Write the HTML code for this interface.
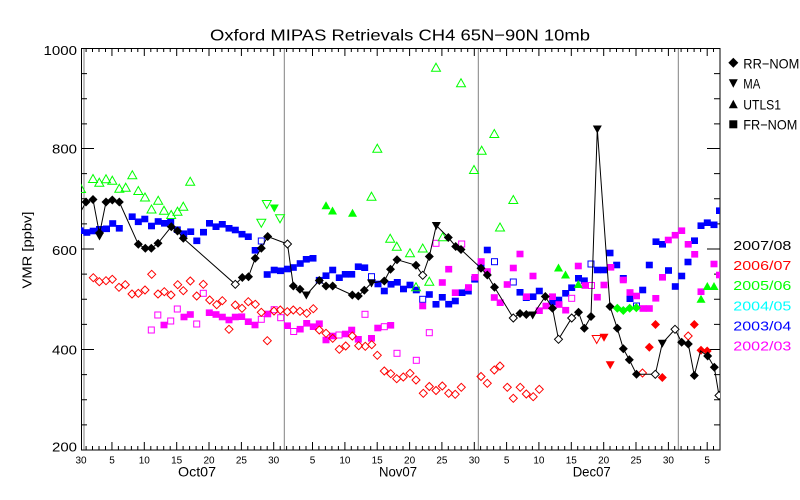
<!DOCTYPE html>
<html><head><meta charset="utf-8"><style>
html,body{margin:0;padding:0;background:#fff;}
svg{display:block;}
text{font-family:"Liberation Sans",sans-serif;}
</style></head><body>
<svg width="800" height="500" viewBox="0 0 800 500" xmlns="http://www.w3.org/2000/svg">
<defs>
<clipPath id="pc"><rect x="81" y="48" width="639" height="402"/></clipPath>
<path id="D" d="M0-4.5 4.5 0 0 4.5-4.5 0z"/>
<path id="d" d="M0-4 4 0 0 4-4 0z"/>
<rect id="S" x="-3.5" y="-3.3" width="7" height="6.6"/>
<rect id="s" x="-3" y="-3" width="6" height="6"/>
<path id="U" d="M0-4.5 4.5 3.5-4.5 3.5z"/>
<path id="V" d="M-4.5-3.5 4.5-3.5 0 4.5z"/>
</defs>
<rect width="800" height="500" fill="#fff"/>

<text x="400" y="40.7" font-size="16" text-anchor="middle" textLength="380" lengthAdjust="spacingAndGlyphs">Oxford MIPAS Retrievals CH4 65N−90N 10mb</text>

<!-- month lines -->
<g stroke="#808080" stroke-width="1">
<line x1="84" y1="48" x2="84" y2="450"/>
<line x1="284.3" y1="48" x2="284.3" y2="450"/>
<line x1="478.3" y1="48" x2="478.3" y2="450"/>
<line x1="678.3" y1="48" x2="678.3" y2="450"/>
</g>

<!-- axes box -->
<rect x="81.5" y="48.5" width="638.5" height="401.5" fill="none" stroke="#000" stroke-width="1"/>

<!-- y ticks -->
<g stroke="#000" stroke-width="1">
<path d="M81 48.5h13M81 148.5h13M81 249h13M81 349.5h13M81 450h13"/>
<path d="M81 73.6h6M81 98.8h6M81 123.9h6M81 173.6h6M81 198.8h6M81 223.9h6M81 274.1h6M81 299.3h6M81 324.4h6M81 374.6h6M81 399.8h6M81 424.9h6"/>
<path d="M720 48.5h-13M720 148.5h-13M720 249h-13M720 349.5h-13M720 450h-13"/>
<path d="M720 73.6h-6M720 98.8h-6M720 123.9h-6M720 173.6h-6M720 198.8h-6M720 223.9h-6M720 274.1h-6M720 299.3h-6M720 324.4h-6M720 374.6h-6M720 399.8h-6M720 424.9h-6"/>
</g>
<g font-size="12.5" text-anchor="end">
<text x="77" y="55" textLength="33.5" lengthAdjust="spacingAndGlyphs">1000</text>
<text x="77" y="153.3" textLength="25" lengthAdjust="spacingAndGlyphs">800</text>
<text x="77" y="255" textLength="25" lengthAdjust="spacingAndGlyphs">600</text>
<text x="77" y="354.3" textLength="25" lengthAdjust="spacingAndGlyphs">400</text>
<text x="77" y="451.7" textLength="25" lengthAdjust="spacingAndGlyphs">200</text>
</g>
<text transform="translate(31.5,250) rotate(-90)" font-size="13" text-anchor="middle" textLength="77" lengthAdjust="spacingAndGlyphs">VMR [ppbv]</text>

<!-- x ticks -->
<g stroke="#000" stroke-width="1" id="xt">
<path d="M86.1 450v-4M92.5 450v-4M99 450v-4M105.5 450v-4M118.4 450v-4M124.9 450v-4M131.4 450v-4M137.8 450v-4M150.8 450v-4M157.2 450v-4M163.7 450v-4M170.2 450v-4M183.1 450v-4M189.6 450v-4M196.1 450v-4M202.5 450v-4M215.5 450v-4M221.9 450v-4M228.4 450v-4M234.9 450v-4M247.8 450v-4M254.3 450v-4M260.8 450v-4M267.2 450v-4M280.2 450v-4M286.6 450v-4M293.1 450v-4M299.6 450v-4M306 450v-4M318.9 450v-4M325.4 450v-4M331.9 450v-4M338.4 450v-4M351.3 450v-4M357.8 450v-4M364.2 450v-4M370.7 450v-4M383.6 450v-4M390.1 450v-4M396.6 450v-4M403 450v-4M416 450v-4M422.4 450v-4M428.9 450v-4M435.4 450v-4M448.3 450v-4M454.8 450v-4M461.2 450v-4M467.7 450v-4M480.6 450v-4M487.1 450v-4M493.6 450v-4M500.1 450v-4M513 450v-4M519.5 450v-4M525.9 450v-4M532.4 450v-4M545.3 450v-4M551.8 450v-4M558.3 450v-4M564.7 450v-4M577.7 450v-4M584.1 450v-4M590.6 450v-4M597.1 450v-4M610 450v-4M616.5 450v-4M622.9 450v-4M629.4 450v-4M642.3 450v-4M648.8 450v-4M655.3 450v-4M661.8 450v-4M674.7 450v-4M681.1 450v-4M687.6 450v-4M694.1 450v-4M700.6 450v-4M713.5 450v-4"/>
<path d="M111.95 450v-8M144.3 450v-8M176.7 450v-8M209 450v-8M241.4 450v-8M273.7 450v-8M312.5 450v-8M344.9 450v-8M377.2 450v-8M409.6 450v-8M441.9 450v-8M474.3 450v-8M506.6 450v-8M538.9 450v-8M571.3 450v-8M603.7 450v-8M636 450v-8M668.4 450v-8M707.2 450v-8"/>
</g>
<use href="#xt" transform="translate(0,498) scale(1,-1)"/>
<g font-size="10" text-anchor="middle">
<text x="81" y="463.3">30</text><text x="112" y="463.3">5</text><text x="144.3" y="463.3">10</text><text x="176.7" y="463.3">15</text><text x="209" y="463.3">20</text><text x="241.4" y="463.3">25</text><text x="273.7" y="463.3">30</text>
<text x="312.5" y="463.3">5</text><text x="344.9" y="463.3">10</text><text x="377.2" y="463.3">15</text><text x="409.6" y="463.3">20</text><text x="441.9" y="463.3">25</text><text x="474.3" y="463.3">30</text>
<text x="506.6" y="463.3">5</text><text x="538.9" y="463.3">10</text><text x="571.3" y="463.3">15</text><text x="603.7" y="463.3">20</text><text x="636" y="463.3">25</text><text x="668.4" y="463.3">30</text>
<text x="707.2" y="463.3">5</text>
</g>
<g font-size="14" text-anchor="middle">
<text x="197" y="476.7" textLength="38" lengthAdjust="spacingAndGlyphs">Oct07</text>
<text x="398" y="476.7" textLength="38" lengthAdjust="spacingAndGlyphs">Nov07</text>
<text x="591.7" y="476.7" textLength="38" lengthAdjust="spacingAndGlyphs">Dec07</text>
</g>

<g clip-path="url(#pc)">
<!-- 2003/04 blue -->
<g fill="#0000ff">
<use href="#S" x="80.2" y="230.7"/><use href="#S" x="86.8" y="232.5"/><use href="#S" x="93.2" y="231"/><use href="#S" x="99.5" y="229.3"/><use href="#S" x="106.5" y="228.8"/><use href="#S" x="112.7" y="223.5"/><use href="#S" x="119.3" y="228.3"/><use href="#S" x="132.2" y="216.7"/><use href="#S" x="138.3" y="221.8"/><use href="#S" x="144.8" y="219"/><use href="#S" x="151.5" y="226"/><use href="#S" x="158.2" y="221.5"/><use href="#S" x="164.5" y="223.3"/><use href="#S" x="170.7" y="221.7"/><use href="#S" x="177.3" y="229.7"/><use href="#S" x="183.7" y="233.7"/><use href="#S" x="190.7" y="231.7"/><use href="#S" x="196.8" y="240.8"/><use href="#S" x="203.5" y="232.2"/><use href="#S" x="209.5" y="223.3"/><use href="#S" x="216" y="226.7"/><use href="#S" x="222.3" y="224.3"/><use href="#S" x="229" y="228.3"/><use href="#S" x="235.3" y="230"/><use href="#S" x="242" y="234.2"/><use href="#S" x="248.3" y="236.7"/><use href="#S" x="255.2" y="250.3"/><use href="#S" x="267.2" y="274.5"/><use href="#S" x="274.2" y="270"/><use href="#S" x="280.5" y="270.8"/><use href="#S" x="287.5" y="269"/><use href="#S" x="293.3" y="267.5"/><use href="#S" x="300.2" y="263.5"/><use href="#S" x="306.3" y="259.3"/><use href="#S" x="313" y="258.3"/><use href="#S" x="319.3" y="280.2"/><use href="#S" x="326" y="275.7"/><use href="#S" x="332.7" y="270"/><use href="#S" x="339.3" y="277.7"/><use href="#S" x="345.3" y="274.3"/><use href="#S" x="351.7" y="274.3"/><use href="#S" x="358.3" y="266.7"/><use href="#S" x="364.7" y="267.7"/><use href="#S" x="378" y="284"/><use href="#S" x="384.3" y="291"/><use href="#S" x="391" y="284.3"/><use href="#S" x="397.3" y="282.3"/><use href="#S" x="403.5" y="289"/><use href="#S" x="410" y="285"/><use href="#S" x="416.3" y="290"/><use href="#S" x="429.3" y="294.5"/><use href="#S" x="436" y="304.3"/><use href="#S" x="442.3" y="297.3"/><use href="#S" x="448.7" y="304.2"/><use href="#S" x="455.3" y="301"/><use href="#S" x="462" y="292.7"/><use href="#S" x="468.3" y="291.2"/><use href="#S" x="474.7" y="279.3"/><use href="#S" x="481" y="266"/><use href="#S" x="487.3" y="250"/><use href="#S" x="520" y="292.3"/><use href="#S" x="526.3" y="297.7"/><use href="#S" x="533" y="296.7"/><use href="#S" x="539.3" y="291"/><use href="#S" x="552.7" y="302"/><use href="#S" x="558.7" y="300"/><use href="#S" x="565.7" y="293.3"/><use href="#S" x="571.7" y="287.7"/><use href="#S" x="578.5" y="278.3"/><use href="#S" x="584.3" y="280.7"/><use href="#S" x="597.3" y="270"/><use href="#S" x="603.7" y="270"/><use href="#S" x="610" y="253"/><use href="#S" x="616.7" y="265"/><use href="#S" x="623.3" y="278.3"/><use href="#S" x="630" y="298.7"/><use href="#S" x="642.7" y="290"/><use href="#S" x="649.3" y="265"/><use href="#S" x="656" y="241.7"/><use href="#S" x="662.5" y="244.3"/><use href="#S" x="668.5" y="270.5"/><use href="#S" x="675.3" y="286.5"/><use href="#S" x="681.7" y="276"/><use href="#S" x="688" y="262"/><use href="#S" x="694.5" y="240.7"/><use href="#S" x="701" y="225.7"/><use href="#S" x="707.3" y="222.7"/><use href="#S" x="714" y="224.8"/><use href="#S" x="719.5" y="210.7"/>
</g>
<g fill="none" stroke="#0000ff" stroke-width="1">
<use href="#s" x="261.3" y="241"/><use href="#s" x="371.5" y="276.7"/><use href="#s" x="422.7" y="299.3"/><use href="#s" x="494.5" y="261.7"/><use href="#s" x="513.3" y="282"/><use href="#s" x="591" y="264"/><use href="#s" x="636.5" y="306"/>
</g>

<!-- 2002/03 magenta -->
<g fill="#ff00ff">
<use href="#S" x="164" y="325"/><use href="#S" x="184" y="317"/><use href="#S" x="190.3" y="314.5"/><use href="#S" x="209.3" y="312.7"/><use href="#S" x="216" y="314.5"/><use href="#S" x="222.3" y="317"/><use href="#S" x="229" y="320"/><use href="#S" x="235.3" y="317"/><use href="#S" x="241.7" y="316.7"/><use href="#S" x="248.3" y="321.7"/><use href="#S" x="255" y="325"/><use href="#S" x="267.7" y="314"/><use href="#S" x="287.5" y="325.7"/><use href="#S" x="300.2" y="329.2"/><use href="#S" x="306.7" y="323.3"/><use href="#S" x="313.3" y="326.7"/><use href="#S" x="319.3" y="323.7"/><use href="#S" x="326" y="340"/><use href="#S" x="332.5" y="336"/><use href="#S" x="345.5" y="334"/><use href="#S" x="351.7" y="330"/><use href="#S" x="358.3" y="339.3"/><use href="#S" x="371.5" y="338.3"/><use href="#S" x="377.8" y="328"/><use href="#S" x="390.7" y="325.3"/><use href="#S" x="422.7" y="306"/><use href="#S" x="442.3" y="282.5"/><use href="#S" x="448.7" y="269.2"/><use href="#S" x="455.3" y="292.7"/><use href="#S" x="468.5" y="287.5"/><use href="#S" x="475" y="277.3"/><use href="#S" x="481.2" y="261.5"/><use href="#S" x="487.3" y="271.5"/><use href="#S" x="494.3" y="297.5"/><use href="#S" x="500.2" y="302.7"/><use href="#S" x="507.2" y="284.5"/><use href="#S" x="513.3" y="268"/><use href="#S" x="520" y="254"/><use href="#S" x="526.5" y="296.7"/><use href="#S" x="533" y="276"/><use href="#S" x="539.3" y="310.7"/><use href="#S" x="546" y="306"/><use href="#S" x="552.5" y="296.7"/><use href="#S" x="559" y="304.5"/><use href="#S" x="565.7" y="310.2"/><use href="#S" x="578.3" y="266"/><use href="#S" x="585" y="285.5"/><use href="#S" x="597.3" y="297.2"/><use href="#S" x="604" y="285"/><use href="#S" x="610.8" y="267.3"/><use href="#S" x="623.3" y="280"/><use href="#S" x="630" y="292.5"/><use href="#S" x="636.5" y="296"/><use href="#S" x="643" y="308.5"/><use href="#S" x="649.3" y="308.5"/><use href="#S" x="655.8" y="298.3"/><use href="#S" x="662.5" y="277.3"/><use href="#S" x="668.3" y="240"/><use href="#S" x="675.2" y="235.2"/><use href="#S" x="681.7" y="230.7"/><use href="#S" x="688.2" y="244.3"/><use href="#S" x="694.7" y="254.3"/><use href="#S" x="701" y="291.7"/><use href="#S" x="714" y="264"/><use href="#S" x="719.5" y="275"/>
</g>
<g fill="none" stroke="#ff00ff" stroke-width="1">
<use href="#s" x="151.3" y="330"/><use href="#s" x="157.8" y="315"/><use href="#s" x="170.7" y="321"/><use href="#s" x="177.3" y="309"/><use href="#s" x="196.7" y="324"/><use href="#s" x="203.3" y="293.3"/><use href="#s" x="261.3" y="319.3"/><use href="#s" x="274.2" y="309.7"/><use href="#s" x="280.7" y="317.7"/><use href="#s" x="293.7" y="331.5"/><use href="#s" x="339" y="335"/><use href="#s" x="365" y="314.3"/><use href="#s" x="384.3" y="326.7"/><use href="#s" x="397" y="353.3"/><use href="#s" x="416.3" y="360.3"/><use href="#s" x="429.3" y="332.7"/><use href="#s" x="436" y="243.3"/><use href="#s" x="461.7" y="244"/><use href="#s" x="571.7" y="298.3"/><use href="#s" x="591.5" y="285.5"/>
</g>

<!-- 2005/06 green -->
<g fill="none" stroke="#00ff00" stroke-width="1">
<use href="#U" x="81" y="189"/><use href="#U" x="93" y="179"/><use href="#U" x="99.3" y="182.7"/><use href="#U" x="106" y="179.3"/><use href="#U" x="112.3" y="180.7"/><use href="#U" x="119.3" y="188.7"/><use href="#U" x="125.7" y="187.7"/><use href="#U" x="132.3" y="175.3"/><use href="#U" x="138.3" y="191"/><use href="#U" x="145" y="197.5"/><use href="#U" x="151.5" y="209.5"/><use href="#U" x="158.2" y="200.8"/><use href="#U" x="164" y="210.7"/><use href="#U" x="171.2" y="215"/><use href="#U" x="177.5" y="211.7"/><use href="#U" x="183.3" y="206.7"/><use href="#U" x="190.2" y="181.8"/><use href="#U" x="371.5" y="196.7"/><use href="#U" x="377.3" y="148.7"/><use href="#U" x="390.2" y="238.8"/><use href="#U" x="396.8" y="246.7"/><use href="#U" x="410" y="253.3"/><use href="#U" x="422.7" y="248.5"/><use href="#U" x="436" y="67.7"/><use href="#U" x="442.7" y="237.3"/><use href="#U" x="461" y="83.3"/><use href="#U" x="474" y="170"/><use href="#U" x="481.7" y="150.7"/><use href="#U" x="494.3" y="134"/><use href="#U" x="500" y="227.5"/><use href="#U" x="513.3" y="200"/><use href="#U" x="416" y="287.3"/><use href="#U" x="429.3" y="281.7"/>
<use href="#V" x="261.3" y="222.7"/><use href="#V" x="266.8" y="204"/><use href="#V" x="280" y="218.3"/>
</g>
<g fill="#00ff00">
<use href="#V" x="274.3" y="208"/>
<use href="#U" x="326" y="205.7"/><use href="#U" x="332.5" y="211"/><use href="#U" x="352.5" y="213.3"/><use href="#U" x="558.5" y="268"/><use href="#U" x="565.5" y="275"/><use href="#U" x="578.3" y="284.5"/><use href="#U" x="701" y="299.3"/><use href="#U" x="707.3" y="286.5"/><use href="#U" x="714" y="286.5"/>
<use href="#D" x="617.3" y="308.3"/><use href="#D" x="623.3" y="310.5"/><use href="#D" x="629.7" y="308.3"/><use href="#D" x="636.3" y="307.7"/>
</g>

<!-- 2006/07 red -->
<g fill="none" stroke="#ff0000" stroke-width="1">
<use href="#d" x="93.3" y="277.7"/><use href="#d" x="99.3" y="281.7"/><use href="#d" x="106" y="280.7"/><use href="#d" x="112.3" y="279.3"/><use href="#d" x="119" y="287.3"/><use href="#d" x="125.3" y="284.7"/><use href="#d" x="132" y="294"/><use href="#d" x="138.3" y="293.3"/><use href="#d" x="145" y="290"/><use href="#d" x="151.7" y="274.3"/><use href="#d" x="158" y="294"/><use href="#d" x="164.3" y="291.7"/><use href="#d" x="171" y="295"/><use href="#d" x="177.7" y="284.7"/><use href="#d" x="183.3" y="290.7"/><use href="#d" x="190.3" y="281"/><use href="#d" x="196.7" y="296"/><use href="#d" x="203.3" y="284.3"/><use href="#d" x="209.7" y="300"/><use href="#d" x="216.7" y="304.7"/><use href="#d" x="222.3" y="300.7"/><use href="#d" x="229" y="329.3"/><use href="#d" x="235.3" y="305"/><use href="#d" x="242" y="308.3"/><use href="#d" x="248.3" y="301.7"/><use href="#d" x="255.3" y="304.3"/><use href="#d" x="261.3" y="312.3"/><use href="#d" x="267.3" y="340.7"/><use href="#d" x="274" y="311"/><use href="#d" x="280.3" y="310"/><use href="#d" x="287.3" y="311.7"/><use href="#d" x="293.3" y="310"/><use href="#d" x="300" y="311.3"/><use href="#d" x="306.7" y="313.3"/><use href="#d" x="313.3" y="308.7"/><use href="#d" x="319.3" y="330"/><use href="#d" x="326" y="333.3"/><use href="#d" x="332.7" y="338.3"/><use href="#d" x="339.3" y="349.3"/><use href="#d" x="345.7" y="346"/><use href="#d" x="352.3" y="336"/><use href="#d" x="358.7" y="345.7"/><use href="#d" x="365.3" y="346.3"/><use href="#d" x="371.7" y="344.7"/><use href="#d" x="377.3" y="355.3"/><use href="#d" x="384.3" y="371"/><use href="#d" x="390.7" y="373.7"/><use href="#d" x="396.7" y="378.7"/><use href="#d" x="403.3" y="377"/><use href="#d" x="410" y="373.3"/><use href="#d" x="416" y="380"/><use href="#d" x="423.3" y="393.3"/><use href="#d" x="429.3" y="386.5"/><use href="#d" x="436" y="390.5"/><use href="#d" x="442.3" y="386"/><use href="#d" x="448.7" y="393.3"/><use href="#d" x="455.2" y="394.3"/><use href="#d" x="461.3" y="387.3"/><use href="#d" x="481" y="376.5"/><use href="#d" x="487.3" y="383.3"/><use href="#d" x="494.3" y="370"/><use href="#d" x="500" y="366"/><use href="#d" x="507.3" y="387.3"/><use href="#d" x="513.3" y="398.3"/><use href="#d" x="520.2" y="387.3"/><use href="#d" x="526.3" y="394"/><use href="#d" x="533.2" y="396.7"/><use href="#d" x="539.3" y="389.3"/><use href="#d" x="642.5" y="373"/><use href="#d" x="688.2" y="336"/>
<use href="#V" x="596.7" y="339"/>
</g>
<g fill="#ff0000">
<use href="#D" x="649.3" y="347.3"/><use href="#D" x="655.5" y="324.5"/><use href="#D" x="662.3" y="377.5"/><use href="#D" x="694.3" y="324.5"/><use href="#D" x="701" y="350.3"/><use href="#D" x="707.2" y="351"/>
<use href="#V" x="604" y="337.2"/><use href="#V" x="610.2" y="364.8"/>
</g>

<!-- 2007/08 black -->
<polyline fill="none" stroke="#000" stroke-width="1" points="80,213 86,202 93,199.5 99.5,234 106,202 112.3,200 119.3,202 138.3,244.3 145.3,248.3 151.3,248.3 158,243.3 171.3,226.7 177.5,231 183.3,238.3 235.3,284.3 242.3,277.5 248.5,276.7 255.2,258.3 261.3,248.3 267.7,236.5 287.5,244 293.3,286 300,289.3 306.3,295 319.3,280.5 326,286 332.7,286 352.3,295 358.3,296 364.3,290.3 371.5,283 384.3,281 390.5,269.3 397,259.7 416,265.3 422.7,275.3 429.3,256.5 436.3,225.5 448.3,237.5 455.7,246.5 461,249.5 481,268.3 487.3,275 494.5,287.3 513.3,318 520,313.5 526.3,314.5 532.7,315 545.3,296.5 552.5,308.3 558.5,339.3 571.7,318 578.5,312.3 584.3,328.3 591,316.5 597.3,129 610,306.5 617.3,328.3 623.3,348.7 629.3,359.7 636.5,374.3 655.3,374.3 662.3,343.3 675,329.3 681.7,342.3 688.3,344 694.3,375.5 700.5,351 707.7,356 714.3,367.3 719,395.5 722,400"/>
<g fill="#000">
<use href="#D" x="86" y="202"/><use href="#D" x="93" y="199.5"/><use href="#D" x="99.5" y="233"/><use href="#D" x="106" y="202"/><use href="#D" x="112.3" y="200"/><use href="#D" x="119.3" y="202"/><use href="#D" x="138.3" y="244.3"/><use href="#D" x="145.3" y="248.3"/><use href="#D" x="151.3" y="248.3"/><use href="#D" x="158" y="243.3"/><use href="#D" x="171.3" y="226.7"/><use href="#D" x="177.5" y="231"/><use href="#D" x="183.3" y="238.3"/><use href="#D" x="242.3" y="277.5"/><use href="#D" x="248.5" y="276.7"/><use href="#D" x="255.2" y="258.3"/><use href="#D" x="261.3" y="248.3"/><use href="#D" x="267.7" y="236.5"/><use href="#D" x="293.3" y="286"/><use href="#D" x="300" y="289.3"/><use href="#D" x="319.3" y="280.5"/><use href="#D" x="326" y="286"/><use href="#D" x="332.7" y="286"/><use href="#D" x="352.3" y="295"/><use href="#D" x="358.3" y="296"/><use href="#D" x="364.3" y="290.3"/><use href="#D" x="384.3" y="281"/><use href="#D" x="390.5" y="269.3"/><use href="#D" x="397" y="259.7"/><use href="#D" x="416" y="265.3"/><use href="#D" x="429.3" y="256.5"/><use href="#D" x="448.3" y="237.5"/><use href="#D" x="455.7" y="246.5"/><use href="#D" x="461" y="249.5"/><use href="#D" x="481" y="268.3"/><use href="#D" x="487.3" y="275"/><use href="#D" x="494.5" y="287.3"/><use href="#D" x="520" y="313.5"/><use href="#D" x="526.3" y="314.5"/><use href="#D" x="545.3" y="296.5"/><use href="#D" x="552.5" y="308.3"/><use href="#D" x="578.5" y="312.3"/><use href="#D" x="584.3" y="328.3"/><use href="#D" x="591" y="316.5"/><use href="#D" x="610" y="306.5"/><use href="#D" x="617.3" y="328.3"/><use href="#D" x="623.3" y="348.7"/><use href="#D" x="629.3" y="359.7"/><use href="#D" x="636.5" y="374.3"/><use href="#D" x="681.7" y="342.3"/><use href="#D" x="688.3" y="344"/><use href="#D" x="694.3" y="375.5"/><use href="#D" x="707.7" y="356"/><use href="#D" x="714.3" y="367.3"/>
<use href="#V" x="99.5" y="236"/><use href="#V" x="306.3" y="295"/><use href="#V" x="371.5" y="283"/><use href="#V" x="436.3" y="225.5"/><use href="#V" x="532.7" y="315"/><use href="#V" x="597.3" y="129"/><use href="#V" x="662.3" y="343.3"/>
</g>
<g fill="#fff" stroke="#000" stroke-width="1">
<use href="#d" x="235.3" y="284.3"/><use href="#d" x="287.5" y="244"/><use href="#d" x="422.7" y="275.3"/><use href="#d" x="513.3" y="318"/><use href="#d" x="558.5" y="339.3"/><use href="#d" x="571.7" y="318"/><use href="#d" x="655.3" y="374.3"/><use href="#d" x="675" y="329.3"/><use href="#d" x="719" y="395.5"/>
</g>
</g>

<!-- legend symbols -->
<g fill="#000">
<path d="M733.3 57.7 738.3 62.7 733.3 67.7 728.3 62.7z"/>
<path d="M728.8 79.3h9l-4.5 8.5z"/>
<path d="M733.3 99.8 737.8 108.3h-9z"/>
<rect x="729.3" y="120.3" width="8" height="8"/>
</g>
<g font-size="14">
<text x="743.3" y="68.3" textLength="56" lengthAdjust="spacingAndGlyphs">RR−NOM</text>
<text x="743.3" y="88.3" textLength="17" lengthAdjust="spacingAndGlyphs">MA</text>
<text x="743.3" y="109.3" textLength="37.7" lengthAdjust="spacingAndGlyphs">UTLS1</text>
<text x="743.3" y="129.3" textLength="54" lengthAdjust="spacingAndGlyphs">FR−NOM</text>
</g>
<g font-size="13">
<text x="733.3" y="250" fill="#000" textLength="58" lengthAdjust="spacingAndGlyphs">2007/08</text>
<text x="733.3" y="270" fill="#ff0000" textLength="58" lengthAdjust="spacingAndGlyphs">2006/07</text>
<text x="733.3" y="290" fill="#00ff00" textLength="58" lengthAdjust="spacingAndGlyphs">2005/06</text>
<text x="733.3" y="310.5" fill="#00ffff" textLength="58" lengthAdjust="spacingAndGlyphs">2004/05</text>
<text x="733.3" y="330.5" fill="#0000ff" textLength="58" lengthAdjust="spacingAndGlyphs">2003/04</text>
<text x="733.3" y="350.5" fill="#ff00ff" textLength="58" lengthAdjust="spacingAndGlyphs">2002/03</text>
</g>
</svg>
</body></html>
